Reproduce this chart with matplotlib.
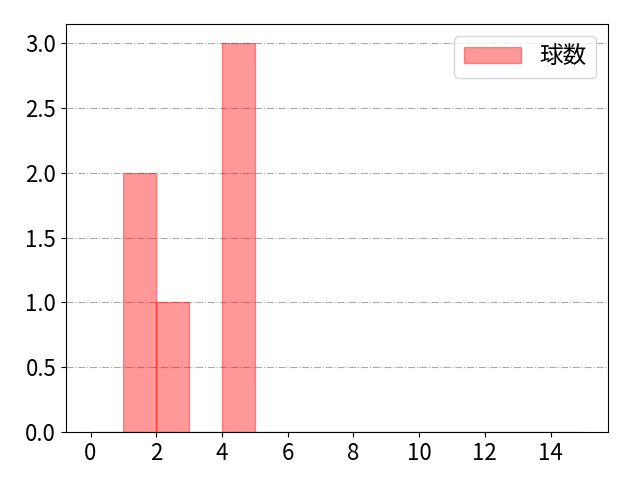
import matplotlib
matplotlib.use('Agg')
import matplotlib.pyplot as plt
import numpy as np

plt.rcParams['font.family'] = ['Noto Sans CJK JP', 'DejaVu Sans']

# bin edges (left) and counts per bin
bin_left = list(range(15))
counts = [0, 2, 1, 0, 3, 0, 0, 0, 0, 0, 0, 0, 0, 0, 0]
label = '球数'
xticks = [0, 2, 4, 6, 8, 10, 12, 14]

fig, ax = plt.subplots(figsize=(6.4, 4.8), dpi=100)
ax.bar(bin_left, counts, width=1, align='edge', color='red', alpha=0.4,
       edgecolor='red', linewidth=1, label=label)
ax.set_xticks(xticks)
ax.grid(axis='y', linestyle='-.', color='#aaaaaa')
ax.set_axisbelow(True)
ax.tick_params(labelsize=16)
ax.legend(fontsize=17, loc='upper right', handlelength=2.4)
fig.subplots_adjust(left=0.103, right=0.95, top=0.95, bottom=0.1)
fig.savefig('out.png')
